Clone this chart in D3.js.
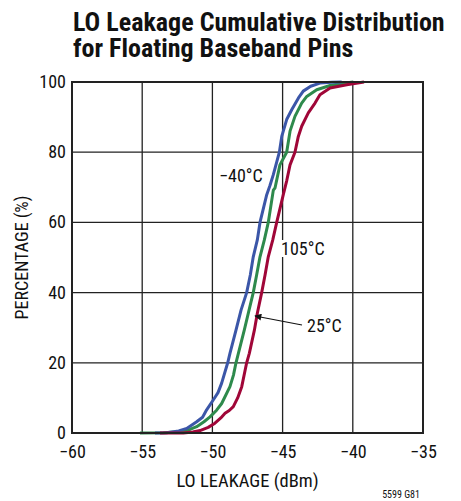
<!DOCTYPE html>
<html><head><meta charset="utf-8">
<script src="https://cdn.jsdelivr.net/npm/d3@7"></script>
<style>
body{margin:0;background:#fff;}
svg{display:block;}
text{font-family:"Liberation Sans Narrow","Arial Narrow","Roboto Condensed","Liberation Sans",sans-serif;fill:#111;}
</style></head>
<body><svg id="c" width="461" height="501"></svg>
<script>
const titleLines = ["LO Leakage Cumulative Distribution", "for Floating Baseband Pins"];
const xTicks = [-60, -55, -50, -45, -40, -35];
const yTicks = [0, 20, 40, 60, 80, 100];
const xLabel = "LO LEAKAGE (dBm)";
const yLabel = "PERCENTAGE (%)";
const seriesNames = ["−40°C", "25°C", "105°C"];
const seriesColors = ["#3b56a8", "#2e8a4c", "#a00638"];

// -40°C
const coldX = [-54.09,-53.25,-52.4,-51.83,-51.12,-50.7,-50.41,-49.94,-49.6,-49.34,-48.91,-48.75,-48.32,-47.96,-47.56,-47.3,-47.09,-46.8,-46.61,-46.13,-45.9,-45.66,-45.23,-45.06,-44.71,-44.35,-43.88,-43.53,-43.0,-42.34,-41.5,-40.79];
const coldY = [0,0.1,0.6,1.3,3.2,4.5,6.6,9.4,11.5,14.2,20,22.7,29.3,35,40,45,50.2,55,60,67.9,70.5,73.6,80,84.5,89.3,92.1,95.4,97.4,98.8,99.7,99.9,100];
// 25°C
const roomX = [-55.16,-53.5,-52.07,-51.6,-51.12,-50.6,-50.17,-49.7,-49.34,-48.75,-48.5,-48.32,-48.15,-47.73,-47.39,-47.09,-46.85,-46.61,-46.3,-46.02,-45.66,-45.54,-45.19,-44.71,-44.47,-44.12,-43.64,-43.28,-42.57,-41.62,-40.8,-39.96];
const roomY = [0,0.1,0.4,1.0,1.8,3.2,4.6,6.5,8.4,13.2,16.5,20,22.7,29.3,35,40,45,50.2,55,60,69.2,69.8,76.4,80,86,90.2,94,95.9,97.8,99,99.6,100];
// 105°C
const hotX = [-53.73,-52.07,-51.4,-50.88,-50.3,-49.82,-49.4,-49.1,-48.8,-48.51,-48.2,-47.91,-47.56,-47.37,-47.01,-46.8,-46.49,-46.25,-46.02,-45.7,-45.42,-44.95,-44.7,-44.47,-44.12,-43.88,-43.64,-43.17,-42.69,-42.34,-41.62,-40.43,-39.2];
const hotY = [0,0,0.3,0.7,1.6,2.8,4.3,5.6,6.4,7.5,10,13.2,20,22.7,29.3,34.1,40,45,50.2,55,60,67.9,72,76.4,80,84.5,87.4,91.2,94,96.4,98.3,99.2,100];

const svg = d3.select("#c");
const m = {l:72, t:82, r:423, b:433};
const x = d3.scaleLinear().domain([-60,-35]).range([m.l, m.r]);
const y = d3.scaleLinear().domain([0,100]).range([m.b, m.t]);

// title
svg.selectAll("text.title").data(titleLines).enter().append("text")
  .attr("class","title").attr("x",73).attr("y",(d,i)=>31+i*26)
  .style("font-size","26px").style("font-weight","bold").text(d=>d);

// grid
const g = svg.append("g");
g.selectAll("line.vx").data(xTicks.slice(1,-1)).enter().append("line")
  .attr("x1",d=>x(d)).attr("x2",d=>x(d)).attr("y1",m.t).attr("y2",m.b)
  .attr("stroke","#222").attr("stroke-width",1.3);
g.selectAll("line.hy").data(yTicks.slice(1,-1)).enter().append("line")
  .attr("y1",d=>y(d)).attr("y2",d=>y(d)).attr("x1",m.l).attr("x2",m.r)
  .attr("stroke","#222").attr("stroke-width",1.3);

// axes labels via d3 axes (no tick lines)
const xAxis = svg.append("g").attr("transform",`translate(0,${m.b})`)
  .call(d3.axisBottom(x).tickValues(xTicks).tickSize(0).tickPadding(12).tickFormat(d=>String(d).replace("-","−")));
xAxis.select(".domain").remove();
xAxis.selectAll("text").style("font-size","18px").style("font-family",null).attr("fill","#111");
const yAxis = svg.append("g").attr("transform",`translate(${m.l},0)`)
  .call(d3.axisLeft(y).tickValues(yTicks).tickSize(0).tickPadding(6));
yAxis.select(".domain").remove();
yAxis.selectAll("text").style("font-size","18px").style("font-family",null).attr("fill","#111").attr("dy","0.3em");

svg.append("text").attr("x",(m.l+m.r)/2).attr("y",487).attr("text-anchor","middle")
  .style("font-size","18.5px").text(xLabel);
svg.append("text").attr("transform",`translate(28,${(m.t+m.b)/2}) rotate(-90)`).attr("text-anchor","middle")
  .style("font-size","18px").text(yLabel);
svg.append("text").attr("x",420).attr("y",498).attr("text-anchor","end")
  .style("font-size","10px").text("5599 G81");

// annotation backgrounds + labels
const ann = [
  {t:seriesNames[0], x:219, y:182},
  {t:seriesNames[2], x:281, y:255},
  {t:seriesNames[1], x:307, y:332}
];
const annG = svg.append("g");
ann.forEach(a=>{
  const tx = annG.append("text").attr("x",a.x).attr("y",a.y).style("font-size","18px").text(a.t);
  const bb = tx.node().getBBox();
  annG.insert("rect","text").attr("x",bb.x-1).attr("y",bb.y+2).attr("width",bb.width+2).attr("height",bb.height-4).attr("fill","#fff");
});

// curves
const line = d3.line().x(d=>x(d[0])).y(d=>y(d[1]));
const series = [
  {xs:roomX, ys:roomY, c:seriesColors[1]},
  {xs:coldX, ys:coldY, c:seriesColors[0]},
  {xs:hotX, ys:hotY, c:seriesColors[2]}
];
svg.selectAll("path.s").data(series).enter().append("path")
  .attr("d",s=>line(d3.zip(s.xs,s.ys))).attr("fill","none")
  .attr("stroke",s=>s.c).attr("stroke-width",3).attr("stroke-linejoin","round");

// arrow
svg.append("defs").append("marker").attr("id","ah").attr("viewBox","0 0 10 10")
  .attr("refX",9).attr("refY",5).attr("markerWidth",9).attr("markerHeight",7).attr("orient","auto")
  .attr("markerUnits","userSpaceOnUse")
  .append("path").attr("d","M0,0 L10,5 L0,10 Z").attr("fill","#111");
svg.append("line").attr("x1",302).attr("y1",325).attr("x2",255).attr("y2",316)
  .attr("stroke","#111").attr("stroke-width",1.2).attr("marker-end","url(#ah)");

// frame
svg.append("rect").attr("x",m.l).attr("y",m.t).attr("width",m.r-m.l).attr("height",m.b-m.t)
  .attr("fill","none").attr("stroke","#222").attr("stroke-width",2);
</script></body></html>
